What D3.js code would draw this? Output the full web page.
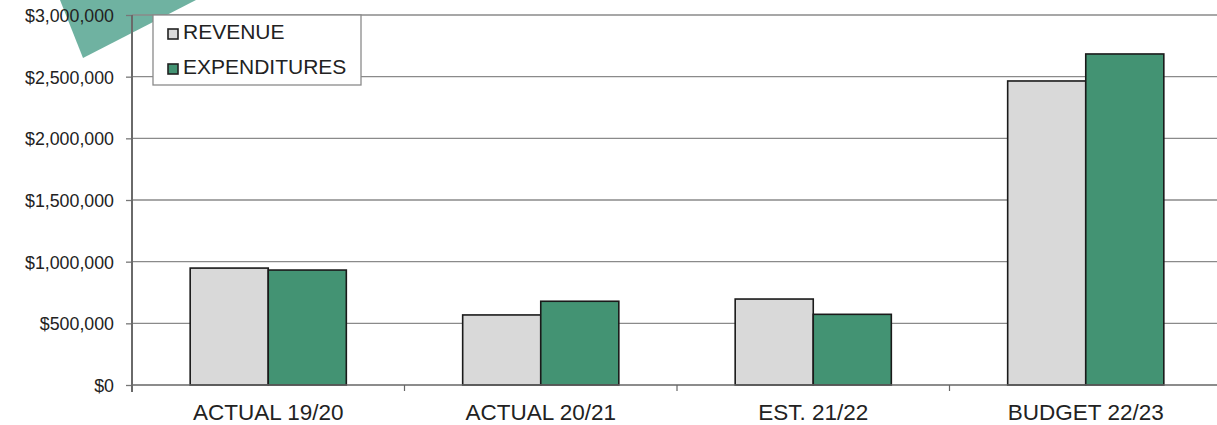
<!DOCTYPE html>
<html>
<head>
<meta charset="utf-8">
<script src="https://cdn.jsdelivr.net/npm/d3@7"></script>
<style>
  html, body { margin: 0; padding: 0; background: #fff; }
  svg { display: block; font-family: "Liberation Sans", Arial, sans-serif; }
</style>
</head>
<body>
<svg id="chart" width="1217" height="425"></svg>
<script>
// Fiscal periods and their revenue / expenditure totals (USD)
const categories = ["ACTUAL 19/20", "ACTUAL 20/21", "EST. 21/22", "BUDGET 22/23"];
const seriesNames = ["REVENUE", "EXPENDITURES"];
const revenue = [948000, 568000, 697000, 2465000];
const expenditures = [932000, 679000, 573000, 2684000];
const yTicks = [0, 500000, 1000000, 1500000, 2000000, 2500000, 3000000];

const colors = { REVENUE: "#d9d9d9", EXPENDITURES: "#439373" };
const seriesValues = { REVENUE: revenue, EXPENDITURES: expenditures };

const svg = d3.select("#chart");
const margin = { left: 132, top: 15, bottom: 40 };
const plotW = 1090;
const plotH = 425 - margin.top - margin.bottom;
const font = "'Liberation Sans', Arial, sans-serif";

// Decorative accent in the top-left corner
svg.append("polygon")
  .attr("points", "60,0 83,58 196,0")
  .attr("fill", "#6fb2a1");

const x = d3.scaleBand().domain(categories).range([0, plotW]).paddingInner(0.427).paddingOuter(0.2135);
const xs = d3.scaleBand().domain(seriesNames).range([0, x.bandwidth()]);
const y = d3.scaleLinear().domain([0, 3000000]).range([plotH, 0]);

const g = svg.append("g").attr("transform", `translate(${margin.left},${margin.top})`);

// Horizontal gridlines
g.append("g").selectAll("line").data(yTicks.filter(d => d > 0)).join("line")
  .attr("x1", 0).attr("x2", plotW)
  .attr("y1", d => y(d)).attr("y2", d => y(d))
  .attr("stroke", "#8a8a8a").attr("stroke-width", 1.3);

// Y axis
const yAxis = g.append("g").call(
  d3.axisLeft(y).tickValues(yTicks).tickSize(6).tickPadding(12)
    .tickFormat(d => "$" + d3.format(",")(d))
);
yAxis.select(".domain").remove();
yAxis.selectAll(".tick line").attr("stroke", "#777").attr("stroke-width", 1.3);
yAxis.selectAll(".tick text").attr("font-size", 17.8).attr("fill", "#222")
  .attr("font-family", font).attr("dy", "0.36em");

// Bars
const groups = g.append("g").selectAll("g").data(categories).join("g")
  .attr("transform", d => `translate(${x(d)},0)`);
groups.selectAll("rect")
  .data((c, i) => seriesNames.map(s => ({ s, v: seriesValues[s][i] })))
  .join("rect")
  .attr("x", d => xs(d.s))
  .attr("width", xs.bandwidth())
  .attr("y", d => y(d.v))
  .attr("height", d => plotH - y(d.v))
  .attr("fill", d => colors[d.s])
  .attr("stroke", "#1a1a1a").attr("stroke-width", 1.6);

// Baseline and category separators
g.append("line").attr("x1", 0).attr("x2", plotW).attr("y1", plotH).attr("y2", plotH)
  .attr("stroke", "#666").attr("stroke-width", 1.4);
const step = x.step();
g.append("g").selectAll("line").data(d3.range(1, categories.length)).join("line")
  .attr("x1", d => d * step).attr("x2", d => d * step)
  .attr("y1", plotH).attr("y2", plotH + 6)
  .attr("stroke", "#666").attr("stroke-width", 1.2);

// Vertical axis line
g.append("line").attr("x1", 0).attr("x2", 0).attr("y1", 0).attr("y2", plotH + 7)
  .attr("stroke", "#6a6a6a").attr("stroke-width", 2);

// Category labels
g.append("g").selectAll("text").data(categories).join("text")
  .attr("x", d => x(d) + x.bandwidth() / 2)
  .attr("y", plotH + 35)
  .attr("text-anchor", "middle")
  .attr("font-size", 22.5).attr("fill", "#222")
  .text(d => d);

// Legend
const legend = svg.append("g").attr("transform", "translate(153,15)");
legend.append("rect").attr("width", 208).attr("height", 70)
  .attr("fill", "#fff").attr("stroke", "#8a8a8a").attr("stroke-width", 1.3);
const items = legend.selectAll("g").data(seriesNames).join("g")
  .attr("transform", (d, i) => `translate(15,${18 + i * 35})`);
items.append("rect").attr("x", 0).attr("y", -4).attr("width", 10).attr("height", 10)
  .attr("fill", d => colors[d]).attr("stroke", "#222").attr("stroke-width", 1.6);
items.append("text").attr("x", 15).attr("y", 6)
  .attr("font-size", 21).attr("fill", "#222").text(d => d);
</script>
</body>
</html>
